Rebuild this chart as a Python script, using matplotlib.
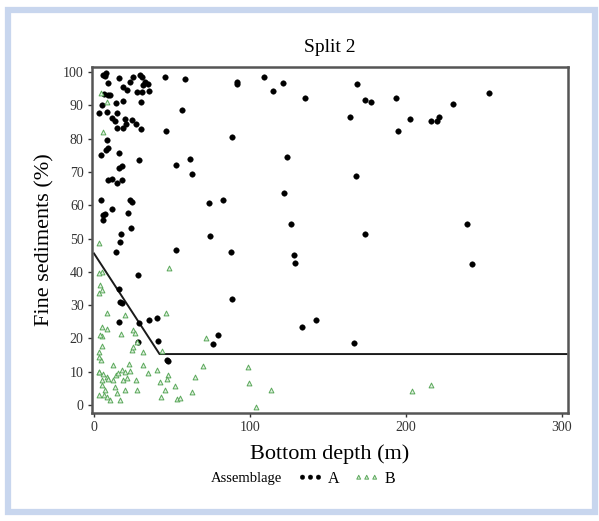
import matplotlib.pyplot as plt
from matplotlib.patches import Rectangle

# assemblage A (black dots): bottom depth (m), fine sediments (%)
a_depth = [6.0, 7.7, 7.1, 16.2, 9.0, 25.2, 23.1, 29.5, 30.6, 18.4, 21.0, 32.7, 34.8, 27.4, 30.6,
           35.3, 31.6, 45.5, 58.3, 6.4, 9.0, 10.3, 4.9, 14.1, 18.8, 30.1, 56.2, 3.2, 8.1, 11.3,
           14.9, 13.5, 19.9, 24.2, 20.3, 14.9, 18.8, 26.7, 29.9, 46.2, 8.1, 9.2, 7.7, 4.5, 16.2,
           29.0, 17.8, 16.2, 52.4, 61.5, 62.6, 9.2, 11.3, 14.6, 17.8, 4.5, 23.1, 24.2, 11.3, 5.6,
           7.1, 5.6, 22.0, 23.5, 17.3, 16.8, 14.1, 52.4, 28.4, 16.2, 16.7, 17.8, 16.2, 29.0, 35.3,
           40.2, 28.4, 40.8, 47.0, 47.6,
           73.7, 82.5, 122.0, 126.1, 173.7, 74.4, 87.6, 128.2, 129.0, 88.7, 142.1, 133.1, 79.7, 76.5, 166.5,
           91.9, 91.9, 109.0, 114.9, 121.0, 135.5, 168.4, 173.5, 177.6, 164.3, 88.7, 123.5, 167.9,
           193.6, 194.9, 202.8, 215.8, 220.1, 221.2, 230.1, 253.2, 239.3, 242.3]
a_fines = [99.1, 99.6, 98.8, 98.1, 96.6, 98.4, 97.1, 99.1, 98.4, 95.6, 94.6, 97.1, 96.4, 94.0, 93.9,
           94.4, 96.1, 98.4, 97.8, 93.4, 93.2, 93.1, 90.1, 90.6, 91.4, 91.1, 88.6, 87.6, 87.9, 86.1,
           87.6, 85.4, 85.8, 85.6, 84.4, 83.1, 83.1, 84.4, 82.8, 82.3, 79.6, 77.1, 76.6, 75.1, 75.6,
           73.6, 71.8, 71.1, 72.2, 73.9, 69.5, 67.6, 67.8, 66.6, 67.6, 61.7, 61.7, 61.1, 58.8, 57.1,
           57.4, 55.6, 57.6, 53.1, 51.3, 49.0, 46.0, 46.5, 39.0, 34.7, 31.0, 30.5, 25.0, 24.7, 25.5,
           26.2, 19.0, 19.3, 13.5, 13.2,
           60.6, 61.6, 63.8, 54.3, 51.4, 50.8, 45.9, 45.0, 42.5, 31.7, 25.5, 23.5, 21.1, 18.2, 18.6,
           97.1, 96.4, 98.6, 94.4, 96.8, 92.3, 96.3, 91.7, 91.1, 86.6, 80.6, 74.6, 68.8,
           92.1, 82.4, 85.8, 85.3, 85.3, 86.6, 90.3, 93.7, 54.3, 42.3]

# assemblage B (green triangles)
b_depth = [4.3, 8.1, 6.0, 3.0, 4.9, 3.8, 48.3, 4.9, 8.1, 19.9, 46.2, 4.9, 8.1, 25.2, 26.3,
           4.9, 17.3, 27.4, 3.2, 4.9, 24.2, 25.2, 31.6, 43.4, 4.5, 12.4, 22.6, 31.2,
           3.4, 6.0, 8.1, 9.2, 12.4, 14.1, 15.6, 17.8, 19.9, 23.1, 21.0, 18.8, 26.9, 34.8, 40.2,
           47.6, 47.0, 42.3, 51.9, 45.5, 62.6, 64.7, 43.0, 53.0, 55.1, 4.9, 7.1, 6.4, 10.3, 14.6,
           16.7, 19.9, 27.4, 13.5, 8.1, 3.4, 4.9,
           71.8, 69.7, 98.9, 99.6, 113.3, 103.8, 204.0, 215.8,
           3.0, 3.0, 3.8, 3.0, 3.0]
b_fines = [93.8, 90.9, 82.1, 48.6, 40.0, 36.0, 41.0, 34.5, 27.5, 27.0, 27.5, 23.5, 22.7, 22.5, 21.5,
           20.7, 21.3, 19.0, 16.0, 17.7, 16.5, 17.5, 16.0, 16.3, 13.5, 12.0, 12.3, 12.0,
           10.0, 9.3, 8.5, 7.7, 7.5, 9.0, 9.5, 10.5, 10.0, 10.3, 8.0, 7.5, 7.5, 9.5, 10.5,
           9.0, 7.7, 7.0, 5.7, 4.5, 4.0, 8.5, 2.5, 1.7, 2.0, 6.0, 4.5, 3.0, 1.5, 3.5,
           1.5, 4.5, 4.5, 5.5, 2.3, 3.0, 7.5,
           20.2, 11.7, 11.3, 6.7, 4.5, -0.5, 4.3, 5.9,
           39.5, 33.5, 21.0, 14.5, 10.0]

# fitted split line
split_x = [0, 42, 303]
split_y = [45.5, 15.3, 15.3]

plt.rcParams['font.family'] = 'Liberation Serif'

fig = plt.figure(figsize=(5.99, 5.21), dpi=100)
ax = fig.add_axes([0.1536, 0.2073, 0.7944, 0.6641])

# light blue frame around the whole panel
fig.patches.append(Rectangle((8 / 599, 9 / 521), 587 / 599, 502 / 521, transform=fig.transFigure,
                             fill=False, edgecolor='#c8d6ee', linewidth=4.5, zorder=0))

ax.plot(split_x, split_y, color='#1a1a1a', linewidth=1.4, zorder=2)
ax.scatter(a_depth, a_fines, s=16, color='black', edgecolors='black', linewidths=0.3,
           label='A', zorder=3)
ax.scatter(b_depth, b_fines, s=12, marker='^', facecolors='#e2f0e2', edgecolors='#5aa85a',
           linewidths=0.7, label='B', zorder=3)

ax.set_xlim(-1.3, 303.8)
ax.set_ylim(-2.4, 101.5)
ax.set_xticks([0, 100, 200, 300])
ax.set_yticks(range(0, 101, 10))
ax.tick_params(direction='out', length=3, width=1, labelsize=10, colors='#333333', pad=3)

for sp in ax.spines.values():
    sp.set_linewidth(1.8)
    sp.set_color('#555555')

ax.set_title('Split 2', fontsize=14, pad=11)
ax.set_xlabel('Bottom depth (m)', fontsize=16, labelpad=7)
ax.set_ylabel('Fine sediments (%)', fontsize=16, labelpad=6)

fig.text(0.352, 0.081, 'Assemblage', fontsize=10.5, va='center', ha='left')
fig.legend(loc='center left', bbox_to_anchor=(0.497, 0.081), ncol=2, frameon=False,
           scatterpoints=3, scatteryoffsets=[0.5], markerscale=0.8, fontsize=11.5,
           handletextpad=0.3, columnspacing=0.9, handlelength=1.6, borderpad=0, borderaxespad=0)

fig.savefig('out.png', dpi=100)
